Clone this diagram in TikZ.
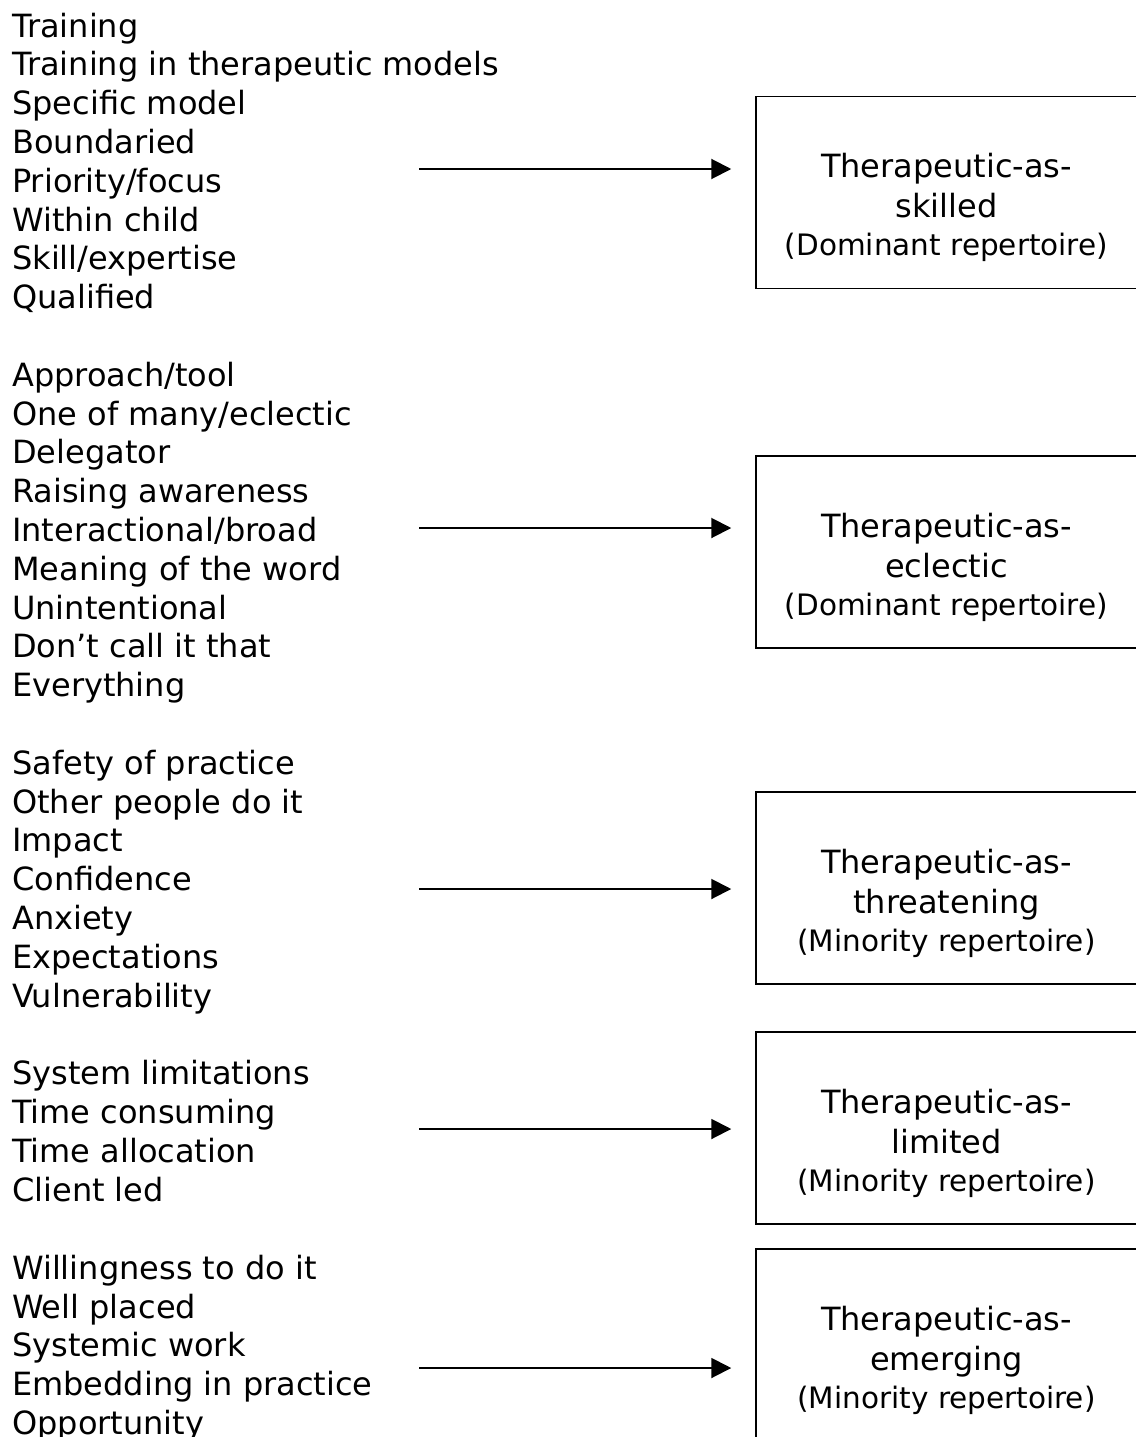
\documentclass[tikz,border=0pt]{standalone}
\usepackage{fontspec}
\setmainfont{DejaVu Sans}
\usetikzlibrary{arrows.meta}

\begin{document}
\begin{tikzpicture}[
    x=1pt, y=-1pt,
    every node/.style={inner sep=0pt},
    cues/.style={
        anchor=north west,
        align=left,
        font=\fontsize{32}{38.8}\selectfont
    },
    repbox/.style={
        draw,
        line width=1.5pt,
        minimum width=381pt,
        minimum height=192pt
    },
    reptext/.style={
        anchor=north,
        align=center,
        font=\fontsize{32}{40}\selectfont
    },
    arrow/.style={-{Triangle[length=20pt,width=20pt]}, line width=2pt, shorten >=24pt}
]
\useasboundingbox (0,0) rectangle (1135,1437);

% word lists
\node (skilledcues) [cues] at (12,9.8)
    {\strut Training\\ Training in therapeutic models\\ Specific model\\ Boundaried\\
     Priority/focus\\ Within child\\ Skill/expertise\\ Qualified};

\node (eclecticcues) [cues] at (12,359)
    {\strut Approach/tool\\ One of many/eclectic\\ Delegator\\ Raising awareness\\
     Interactional/broad\\ Meaning of the word\\ Unintentional\\ Don’t call it that\\ Everything};

\node (threateningcues) [cues] at (12,747)
    {\strut Safety of practice\\ Other people do it\\ Impact\\ Confidence\\
     Anxiety\\ Expectations\\ Vulnerability};

\node (limitedcues) [cues] at (12,1057.4)
    {\strut System limitations\\ Time consuming\\ Time allocation\\ Client led};

\node (emergingcues) [cues] at (12,1252)
    {\strut Willingness to do it\\ Well placed\\ Systemic work\\
     Embedding in practice\\ Opportunity};

% repertoires
\node (skilled) [repbox] at (946.5,192.5) {};
\node (eclectic) [repbox] at (946.5,552) {};
\node (threatening) [repbox] at (946.5,888) {};
\node (limited) [repbox] at (946.5,1128) {};
\node (emerging) [repbox] at (946.5,1345) {};

\node (skilledtext) [reptext] at ([yshift=43pt]skilled.center)
    {\strut Therapeutic-as-\\ skilled\\[-2pt] {\fontsize{29.5}{30}\selectfont (Dominant repertoire)}};
\node (eclectictext) [reptext] at ([yshift=43pt]eclectic.center)
    {\strut Therapeutic-as-\\ eclectic\\[-2pt] {\fontsize{29.5}{30}\selectfont (Dominant repertoire)}};
\node (threateningtext) [reptext] at ([yshift=43pt]threatening.center)
    {\strut Therapeutic-as-\\ threatening\\[-2pt] {\fontsize{29.5}{30}\selectfont (Minority repertoire)}};
\node (limitedtext) [reptext] at ([yshift=43pt]limited.center)
    {\strut Therapeutic-as-\\ limited\\[-2pt] {\fontsize{29.5}{30}\selectfont (Minority repertoire)}};
\node (emergingtext) [reptext] at ([yshift=43pt]emerging.center)
    {\strut Therapeutic-as-\\ emerging\\[-2pt] {\fontsize{29.5}{30}\selectfont (Minority repertoire)}};

\coordinate (a1) at (419,169);
\coordinate (a2) at (419,528);
\coordinate (a3) at (419,889);
\coordinate (a4) at (419,1129);
\coordinate (a5) at (419,1368);

\draw [arrow] (a1) -- (a1 -| skilled.west);
\draw [arrow] (a2) -- (a2 -| eclectic.west);
\draw [arrow] (a3) -- (a3 -| threatening.west);
\draw [arrow] (a4) -- (a4 -| limited.west);
\draw [arrow] (a5) -- (a5 -| emerging.west);

\end{tikzpicture}
\end{document}
